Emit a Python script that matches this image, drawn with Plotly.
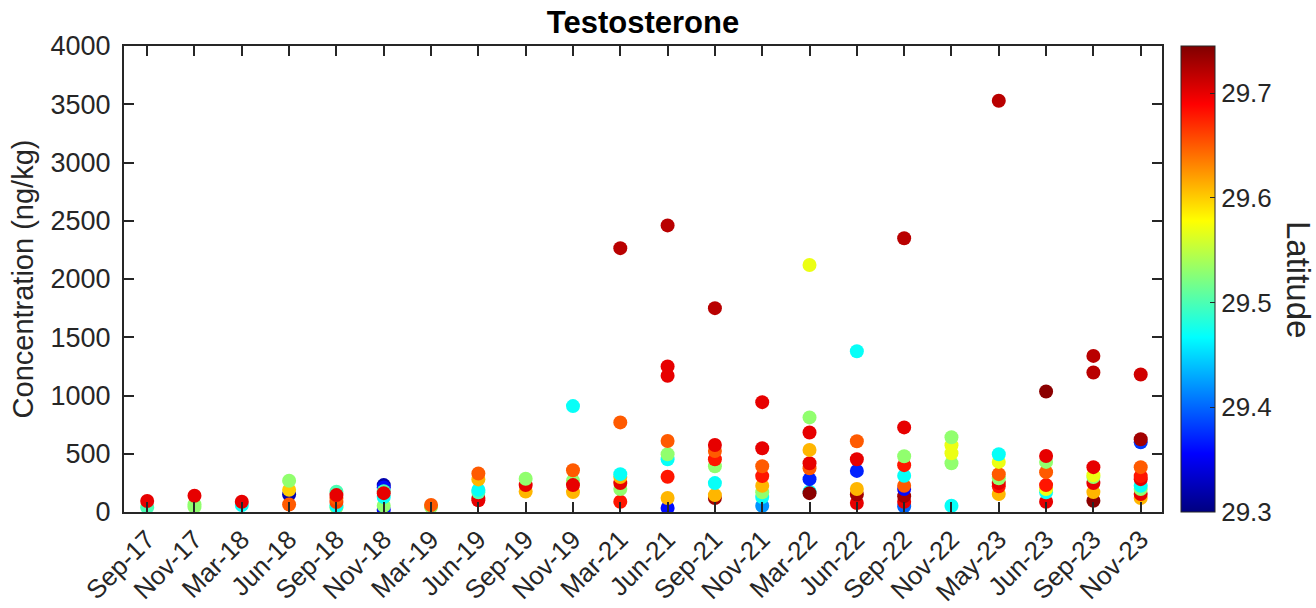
import plotly.graph_objects as go

# Sampling campaigns (x categories)
months = ["Sep-17", "Nov-17", "Mar-18", "Jun-18", "Sep-18", "Nov-18", "Mar-19",
          "Jun-19", "Sep-19", "Nov-19", "Mar-21", "Jun-21", "Sep-21", "Nov-21",
          "Mar-22", "Jun-22", "Sep-22", "Nov-22", "May-23", "Jun-23", "Sep-23", "Nov-23"]

# One entry per sample: campaign, testosterone concentration (ng/kg), site latitude
sample_month = (
    ["Sep-17"] * 2 + ["Nov-17"] * 3 + ["Mar-18"] * 2 + ["Jun-18"] * 4 + ["Sep-18"] * 6
    + ["Nov-18"] * 7 + ["Mar-19"] * 2 + ["Jun-19"] * 6 + ["Sep-19"] * 3 + ["Nov-19"] * 5
    + ["Mar-21"] * 7 + ["Jun-21"] * 9 + ["Sep-21"] * 8 + ["Nov-21"] * 8 + ["Mar-22"] * 9
    + ["Jun-22"] * 7 + ["Sep-22"] * 10 + ["Nov-22"] * 5 + ["May-23"] * 8 + ["Jun-23"] * 8
    + ["Sep-23"] * 8 + ["Nov-23"] * 10
)

concentration = [
    40, 95,
    45, 65, 140,
    60, 88,
    150, 65, 190, 268,
    40, 54, 85, 120, 174, 145,
    20, 231, 210, 54, 179, 128, 162,
    45, 60,
    100, 120, 170, 190, 280, 330,
    175, 231, 285,
    171, 268, 231, 359, 909,
    88, 197, 248, 300, 325, 769, 2265,
    34, 120, 302, 453, 496, 610, 1170, 1250, 2460,
    120, 145, 248, 393, 453, 524, 575, 1750,
    54, 128, 170, 225, 308, 393, 547, 943,
    174, 162, 282, 376, 419, 533, 683, 812, 2120,
    77, 150, 197, 353, 453, 607, 1380,
    50, 88, 136, 197, 225, 311, 402, 479, 726, 2350,
    54, 419, 504, 573, 641,
    154, 220, 248, 290, 325, 430, 496, 3530,
    88, 170, 197, 231, 342, 430, 481, 1034,
    97, 171, 248, 300, 316, 385, 1197, 1340,
    120, 154, 197, 225, 282, 308, 385, 598, 624, 1180,
]

latitude = [
    29.50, 29.70,
    29.53, 29.53, 29.70,
    29.47, 29.70,
    29.32, 29.65, 29.60, 29.53,
    29.53, 29.47, 29.66, 29.65, 29.50, 29.70,
    29.36, 29.32, 29.36, 29.53, 29.50, 29.47, 29.70,
    29.53, 29.65,
    29.70, 29.70, 29.50, 29.47, 29.61, 29.65,
    29.61, 29.70, 29.53,
    29.61, 29.53, 29.70, 29.65, 29.47,
    29.68, 29.53, 29.70, 29.61, 29.47, 29.65, 29.72,
    29.36, 29.61, 29.68, 29.47, 29.53, 29.65, 29.70, 29.70, 29.72,
    29.73, 29.61, 29.47, 29.53, 29.68, 29.65, 29.70, 29.72,
    29.42, 29.47, 29.53, 29.61, 29.68, 29.65, 29.70, 29.70,
    29.47, 29.74, 29.37, 29.65, 29.70, 29.61, 29.70, 29.53, 29.57,
    29.70, 29.73, 29.61, 29.37, 29.70, 29.65, 29.47,
    29.40, 29.70, 29.73, 29.36, 29.65, 29.47, 29.68, 29.53, 29.70, 29.72,
    29.47, 29.53, 29.57, 29.57, 29.53,
    29.61, 29.68, 29.70, 29.53, 29.65, 29.57, 29.47, 29.72,
    29.70, 29.47, 29.57, 29.68, 29.65, 29.53, 29.70, 29.74,
    29.74, 29.61, 29.70, 29.53, 29.57, 29.70, 29.72, 29.72,
    29.61, 29.70, 29.53, 29.47, 29.70, 29.68, 29.65, 29.38, 29.73, 29.71,
]

y_ticks = [0, 500, 1000, 1500, 2000, 2500, 3000, 3500, 4000]
lat_ticks = [29.3, 29.4, 29.5, 29.6, 29.7]

# MATLAB-style jet colormap
jet = [
    [0.0, "rgb(0,0,128)"],
    [0.125, "rgb(0,0,255)"],
    [0.375, "rgb(0,255,255)"],
    [0.625, "rgb(255,255,0)"],
    [0.875, "rgb(255,0,0)"],
    [1.0, "rgb(128,0,0)"],
]

FONT = "Liberation Sans, Arial, Helvetica, sans-serif"
INK = "#262626"

fig = go.Figure(
    go.Scatter(
        x=sample_month,
        y=concentration,
        mode="markers",
        marker=dict(
            size=14,
            color=latitude,
            colorscale=jet,
            cmin=29.3,
            cmax=29.745,
            line=dict(width=0),
            colorbar=dict(
                x=1.0183,
                xanchor="left",
                xpad=0,
                y=0.5,
                len=1.0,
                ypad=0,
                thickness=34,
                outlinewidth=1,
                outlinecolor=INK,
                tickvals=lat_ticks,
                ticktext=[f"{v:.1f}" for v in lat_ticks],
                ticks="inside",
                ticklen=5,
                tickwidth=1,
                tickcolor=INK,
                tickfont=dict(family=FONT, size=26, color=INK),
            ),
        ),
        showlegend=False,
    )
)

# Colorbar label, reading top to bottom
fig.add_annotation(
    text="Latitude",
    xref="paper", yref="paper",
    x=1.132, y=0.5,
    xanchor="center", yanchor="middle",
    textangle=90,
    showarrow=False,
    font=dict(family=FONT, size=33, color=INK),
)

fig.update_layout(
    width=1316,
    height=608,
    margin=dict(l=124, r=154, t=46, b=96, autoexpand=False),
    paper_bgcolor="white",
    plot_bgcolor="white",
    font=dict(family=FONT, color=INK),
    title=dict(
        text="<b>Testosterone</b>",
        x=0.5,
        xref="paper",
        xanchor="center",
        y=1 - 22 / 608,
        yanchor="middle",
        font=dict(family=FONT, size=31, color="black"),
    ),
    xaxis=dict(
        type="category",
        categoryorder="array",
        categoryarray=months,
        range=[-0.49, 21.45],
        automargin=False,
        tickangle=-45,
        ticks="inside",
        ticklen=10,
        tickwidth=2,
        tickcolor=INK,
        showline=True,
        linewidth=2,
        linecolor=INK,
        mirror="ticks",
        showgrid=False,
        zeroline=False,
        tickfont=dict(family=FONT, size=26, color=INK),
    ),
    yaxis=dict(
        range=[0, 4000],
        automargin=False,
        tickvals=y_ticks,
        ticktext=[str(v) for v in y_ticks],
        ticks="inside",
        ticklen=10,
        tickwidth=2,
        tickcolor=INK,
        showline=True,
        linewidth=2,
        linecolor=INK,
        mirror="ticks",
        showgrid=False,
        zeroline=False,
        ticklabelstandoff=6,
        tickfont=dict(family=FONT, size=27, color=INK),
        title=dict(text="Concentration (ng/kg)", standoff=8,
                   font=dict(family=FONT, size=29, color=INK)),
    ),
)

fig.write_html("out.html")
